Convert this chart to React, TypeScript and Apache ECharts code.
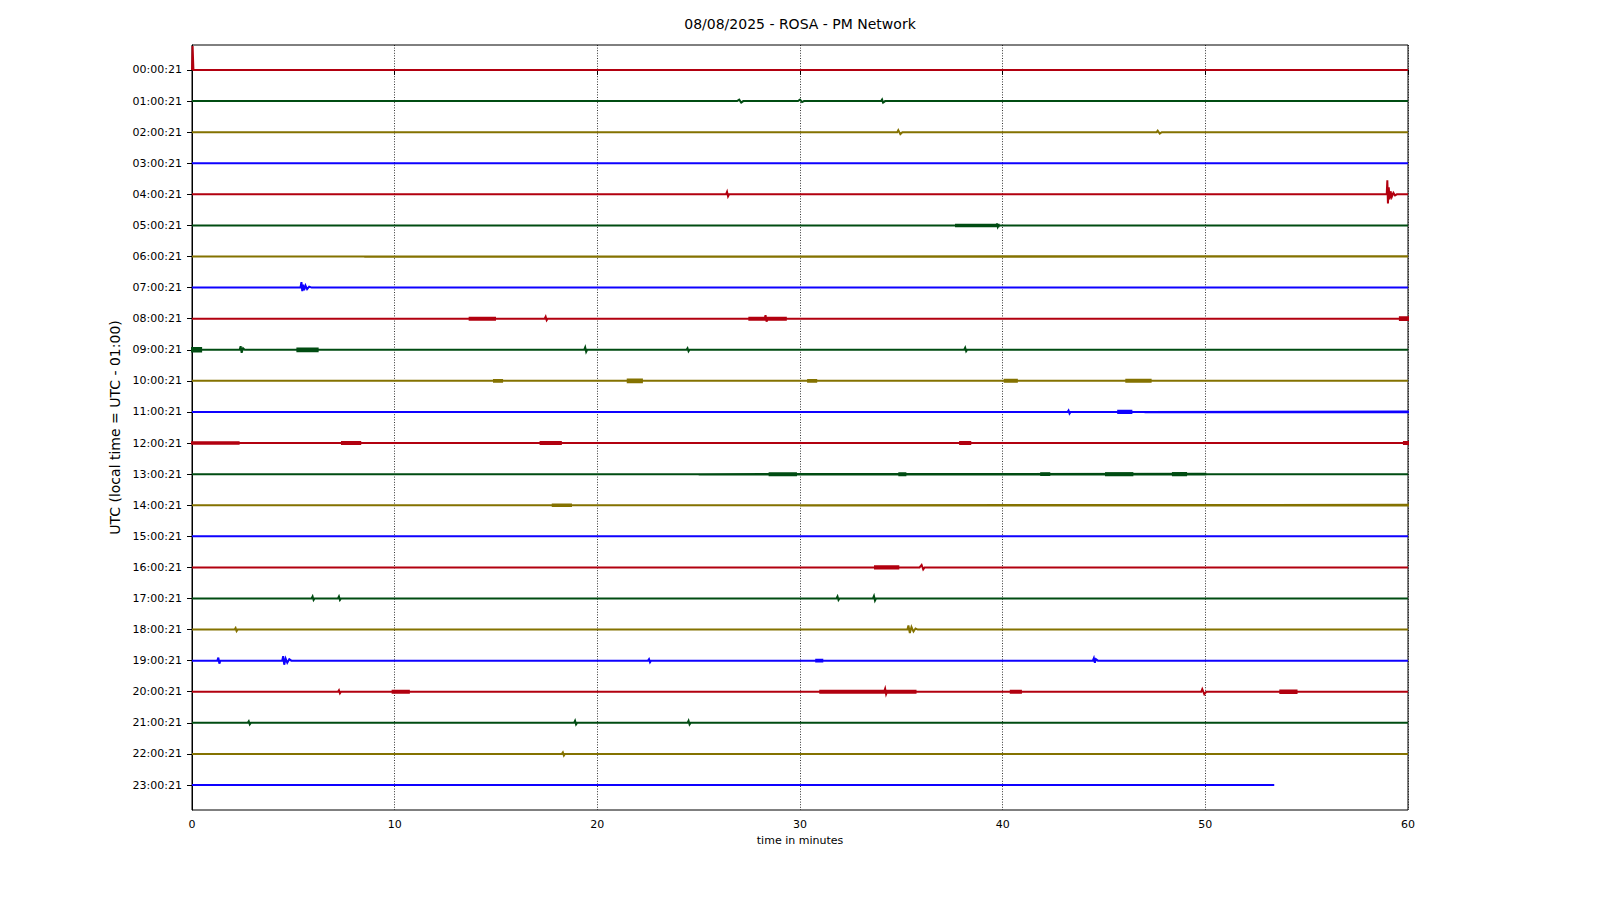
import React, { useEffect, useRef } from "react";
import * as echarts from "echarts";

const TITLE = "08/08/2025 - ROSA - PM Network";
const X_NAME = "time in minutes";
const Y_NAME = "UTC (local time = UTC - 01:00)";
const X_TICKS = [0, 10, 20, 30, 40, 50, 60];
const HOUR_LABELS = [
  "00:00:21", "01:00:21", "02:00:21", "03:00:21", "04:00:21", "05:00:21",
  "06:00:21", "07:00:21", "08:00:21", "09:00:21", "10:00:21", "11:00:21",
  "12:00:21", "13:00:21", "14:00:21", "15:00:21", "16:00:21", "17:00:21",
  "18:00:21", "19:00:21", "20:00:21", "21:00:21", "22:00:21", "23:00:21",
];
const COLORS = ["#B2000F", "#004C12", "#847200", "#0E01FF"];

// Each trace entry: [minute, deflection] = a sample (deflection in counts, + = up)
//                   [startMin, endMin, amplitude] = a noisy burst (envelope)
const r00 = [[0, 0], [0.03, 24], [0.07, 0], [60, 0]];
const r01 = [[0, 0], [26.9, 0], [27.0, 1.5], [27.1, -1.5], [27.2, 0], [29.9, 0], [30.0, 1.5], [30.1, -1], [30.2, 0], [34.0, 0], [34.05, 1.5], [34.1, -1.5], [34.2, 0], [60, 0]];
const r02 = [[0, 0], [34.8, 0], [34.85, 2], [34.95, -2], [35.05, 0], [47.6, 0], [47.65, 1.5], [47.75, -1.5], [47.85, 0], [60, 0]];
const r03 = [[0, 0], [60, 0]];
const r04 = [[0, 0], [26.35, 0], [26.4, 2.5], [26.45, -2], [26.5, 0], [58.95, 0], [58.98, 14], [59.01, -9], [59.05, 7], [59.09, -5], [59.14, 3], [59.2, -2.5], [59.28, 1.5], [59.36, -1], [59.45, 0], [60, 0]];
const r05 = [[0, 0], [37.7, 39.8, 0.8], [39.7, 0], [39.72, 2], [39.76, -1.5], [39.8, 0], [60, 0]];
const r06 = [[0, 0], [8.5, 60, 0.35], [60, 0]];
const r07 = [[0, 0], [5.35, 0], [5.4, 5.5], [5.44, -3.5], [5.48, 3], [5.53, -2.5], [5.6, 2], [5.68, -1.5], [5.78, 1], [5.9, 0], [60, 0]];
const r08 = [[0, 0], [13.7, 14.95, 1.0], [17.4, 0], [17.45, 2], [17.5, -1.5], [17.55, 0], [27.5, 29.3, 1.0], [28.25, 0], [28.3, 3.5], [28.35, -3], [28.4, 0], [59.6, 60, 1.4], [60, 0]];
const r09 = [[0, 0], [0, 0.45, 1.8], [2.35, 0], [2.4, 3.5], [2.45, -3], [2.52, 1.5], [2.6, 0], [5.2, 6.2, 1.4], [19.35, 0], [19.4, 2.5], [19.45, -2], [19.5, 0], [24.4, 0], [24.45, 1.5], [24.5, -1.5], [24.55, 0], [38.1, 0], [38.15, 2], [38.2, -1.5], [38.25, 0], [60, 0]];
const r10 = [[0, 0], [14.9, 15.3, 0.8], [21.5, 22.2, 1.3], [30.4, 30.8, 0.9], [40.1, 40.7, 1.0], [46.1, 47.3, 1.0], [60, 0]];
const r11 = [[0, 0], [43.2, 0], [43.25, 1.5], [43.3, -1.5], [43.35, 0], [45.7, 46.35, 1.1], [47.0, 60, 0.4], [60, 0]];
const r12 = [[0, 0], [0, 2.3, 0.8], [7.4, 8.3, 1.0], [17.2, 18.2, 1.0], [37.9, 38.4, 1.0], [59.8, 60, 1.0], [60, 0]];
const r13 = [[0, 0], [25.0, 50.0, 0.4], [28.5, 29.8, 1.0], [34.9, 35.2, 1.0], [41.9, 42.3, 0.9], [45.1, 46.4, 1.0], [48.4, 49.05, 1.0], [60, 0]];
const r14 = [[0, 0], [17.8, 18.7, 0.8], [30.0, 60.0, 0.4], [60, 0]];
const r15 = [[0, 0], [60, 0]];
const r16 = [[0, 0], [33.7, 34.85, 1.2], [35.9, 0], [36.0, 2.5], [36.08, -2], [36.15, 0], [60, 0]];
const r17 = [[0, 0], [5.9, 0], [5.95, 2], [6.0, -1.5], [6.05, 0], [7.2, 0], [7.25, 2], [7.3, -1.5], [7.35, 0], [31.8, 0], [31.85, 2], [31.9, -1.5], [31.95, 0], [33.6, 0], [33.65, 2.5], [33.7, -2], [33.75, 0], [60, 0]];
const r18 = [[0, 0], [2.1, 0], [2.15, 1.5], [2.2, -1.5], [2.25, 0], [35.3, 0], [35.35, 4], [35.42, -3.5], [35.5, 2.5], [35.6, -2], [35.7, 1], [35.8, 0], [60, 0]];
const r19 = [[0, 0], [1.25, 0], [1.3, 3], [1.35, -3], [1.4, 0], [4.45, 0], [4.5, 4.5], [4.55, -4], [4.62, 2], [4.7, -2], [4.8, 1.5], [4.9, 0], [22.5, 0], [22.55, 1.5], [22.6, -1.5], [22.65, 0], [30.8, 31.1, 0.8], [44.45, 0], [44.5, 2.5], [44.55, -2], [44.6, 1.5], [44.7, 0], [60, 0]];
const r20 = [[0, 0], [7.2, 0], [7.25, 1.5], [7.3, -1.5], [7.35, 0], [9.9, 10.7, 1.0], [31.0, 35.7, 1.0], [34.15, 0], [34.2, 3], [34.25, -2.5], [34.3, 0], [40.4, 40.9, 1.1], [49.8, 0], [49.85, 2.5], [49.95, -2.5], [50.05, 0], [53.7, 54.5, 1.2], [60, 0]];
const r21 = [[0, 0], [2.75, 0], [2.8, 1.5], [2.85, -1.5], [2.9, 0], [18.85, 0], [18.9, 2], [18.95, -1.5], [19.0, 0], [24.45, 0], [24.5, 2], [24.55, -1.5], [24.6, 0], [60, 0]];
const r22 = [[0, 0], [18.25, 0], [18.3, 1.5], [18.35, -1.5], [18.4, 0], [60, 0]];
const r23 = [[0, 0], [53.4, 0]];

const TRACES = [r00, r01, r02, r03, r04, r05, r06, r07, r08, r09, r10, r11, r12, r13, r14, r15, r16, r17, r18, r19, r20, r21, r22, r23];
const COUNTS_PER_ROW = 31;

const FONT = "DejaVu Sans";

// Turn a trace's entries into drawable [minute, deflection] vertices
function expand(entries: number[][]): number[][] {
  const out: number[][] = [];
  for (const e of entries) {
    if (e.length === 3) {
      const [t1, t2, a] = e;
      out.push([t1, 0], [t1, a], [t2, a], [t2, -a], [t1, -a], [t1, 0], [t2, 0]);
    } else {
      out.push(e);
    }
  }
  return out;
}

export default function App() {
  const ref = useRef<HTMLDivElement>(null);
  useEffect(() => {
    if (!ref.current) return;
    const chart = echarts.init(ref.current, undefined, { renderer: "svg" });
    const rows = HOUR_LABELS.map((_, i) => i);
    const series = TRACES.map((tr, i) => ({
      type: "line",
      name: HOUR_LABELS[i],
      data: expand(tr).map(([t, d]) => [t, i - d / COUNTS_PER_ROW]),
      showSymbol: false,
      symbol: "none",
      lineStyle: { color: COLORS[i % 4], width: 2, join: "miter" },
      itemStyle: { color: COLORS[i % 4] },
      silent: true,
      z: 3,
    }));
    chart.setOption({
      animation: false,
      backgroundColor: "#ffffff",
      title: {
        text: TITLE,
        left: "center",
        top: 12,
        textStyle: { fontFamily: FONT, fontSize: 14, fontWeight: "normal", color: "#000" },
      },
      grid: {
        left: 192, right: 192, top: 45, bottom: 90,
        show: true, borderColor: "#000", borderWidth: 1, backgroundColor: "transparent",
      },
      xAxis: {
        type: "value",
        min: 0, max: 60, interval: 10,
        name: X_NAME,
        nameLocation: "middle",
        nameGap: 21,
        nameTextStyle: { fontFamily: FONT, fontSize: 11, color: "#000" },
        axisLine: { show: true, lineStyle: { color: "#000", width: 1 } },
        axisTick: { show: true, length: 5, lineStyle: { color: "#000" } },
        axisLabel: { fontFamily: FONT, fontSize: 11, color: "#000", margin: 9 },
        splitLine: { show: true, lineStyle: { color: "#000", width: 0.8, type: [1, 1.6] } },
        data: X_TICKS,
      },
      yAxis: {
        type: "value",
        inverse: true,
        min: -0.804, max: 23.804,
        name: Y_NAME,
        nameLocation: "middle",
        nameGap: 66,
        nameTextStyle: { fontFamily: FONT, fontSize: 14, color: "#000" },
        axisLine: { show: true, lineStyle: { color: "#000", width: 1 } },
        axisTick: { show: true, length: 5, customValues: rows, lineStyle: { color: "#000" } },
        axisLabel: {
          fontFamily: FONT, fontSize: 11, color: "#000", margin: 10,
          customValues: rows,
          formatter: (v: number) => HOUR_LABELS[Math.round(v)] ?? "",
        },
        splitLine: { show: false },
      },
      series,
    });
    return () => chart.dispose();
  }, []);
  return (
    <div
      ref={ref}
      style={{ position: "absolute", left: 0, top: 0, width: 1600, height: 900, background: "#fff" }}
    />
  );
}
